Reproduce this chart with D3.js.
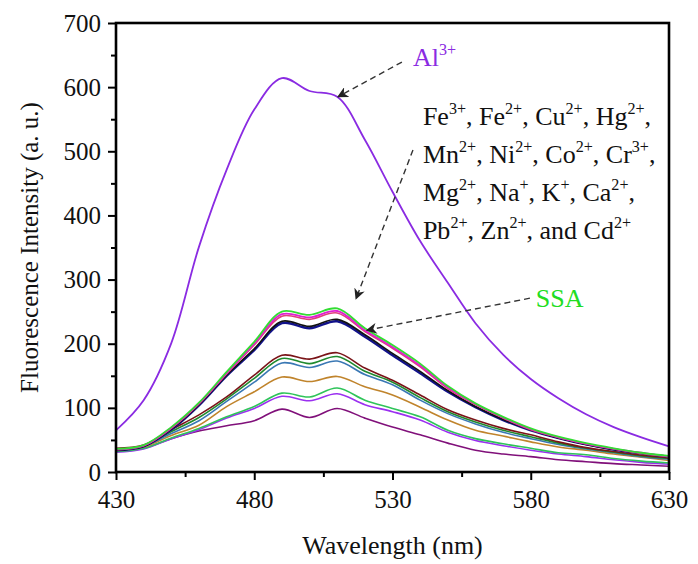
<!DOCTYPE html>
<html>
<head>
<meta charset="utf-8">
<script src="https://cdn.jsdelivr.net/npm/d3@7/dist/d3.min.js"></script>
<style>
  body { margin: 0; background: #fff; }
  svg text { font-family: "Liberation Serif", "Times New Roman", serif; fill: #111; }
</style>
</head>
<body>
<svg id="chart" width="698" height="564"></svg>
<script>
// wavelengths (nm) shared by every spectrum
const wavelengths = [430, 440, 450, 460, 470, 480, 490, 500, 510, 520, 530, 540, 550, 560, 570, 580, 590, 600, 610, 620, 630];

// fluorescence intensity
const al3     = [65, 112, 201, 351, 471, 565, 614, 594, 585, 518, 437, 360, 295, 232, 183, 145, 115, 90, 70, 54, 40];
const ssa     = [36, 42, 70, 108, 156, 203, 250, 245, 255, 224, 198, 169, 134, 107, 86, 68, 55, 45, 37, 30, 25];
const magenta = [35, 41, 69, 107, 154, 200, 246, 241, 251, 221, 195, 166, 132, 106, 85, 67, 54, 44, 36, 30, 24];
const pink    = [35, 41, 68, 106, 153, 198, 243, 238, 248, 219, 193, 164, 130, 105, 84, 66, 54, 44, 36, 29, 24];
const black   = [34, 40, 67, 105, 151, 192, 235, 227, 238, 214, 185, 157, 127, 102, 82, 66, 53, 43, 35, 29, 24];
const navy    = [34, 40, 66, 104, 150, 190, 232, 224, 235, 211, 182, 154, 125, 101, 81, 65, 53, 43, 35, 29, 24];
const maroon  = [37, 42, 66, 89, 117, 151, 182, 176, 186, 162, 143, 120, 97, 81, 68, 58, 47, 38, 32, 26, 22];
const dkgreen = [35, 41, 63, 85, 114, 146, 177, 169, 180, 157, 140, 116, 94, 78, 65, 55, 45, 37, 31, 25, 21];
const steel   = [34, 40, 60, 80, 110, 140, 170, 163, 173, 152, 136, 112, 91, 75, 62, 52, 43, 36, 30, 24, 20];
const brown   = [34, 39, 57, 73, 102, 125, 148, 141, 149, 133, 120, 101, 81, 65, 56, 47, 39, 34, 28, 23, 18];
const green   = [32, 37, 53, 68, 86, 102, 123, 117, 131, 112, 99, 86, 65, 52, 44, 37, 30, 27, 21, 17, 14];
const violet  = [31, 36, 52, 66, 84, 99, 118, 111, 122, 105, 94, 81, 62, 49, 41, 34, 28, 24, 19, 15, 12];
const purple  = [32, 37, 52, 64, 72, 80, 98, 85, 99, 84, 70, 58, 45, 34, 28, 24, 19, 16, 13, 11, 9];

const xTicks = [430, 480, 530, 580, 630];
const yTicks = [0, 100, 200, 300, 400, 500, 600, 700];

// draw order + style
const series = [
  { v: purple,  color: "#80107a", w: 1.6 },
  { v: violet,  color: "#9b30f0", w: 1.6 },
  { v: green,   color: "#2fc45a", w: 1.6 },
  { v: brown,   color: "#c0842c", w: 1.6 },
  { v: steel,   color: "#3a78b4", w: 1.6 },
  { v: dkgreen, color: "#1f8a2e", w: 1.6 },
  { v: maroon,  color: "#7a1418", w: 1.6 },
  { v: navy,    color: "#12128a", w: 2.4 },
  { v: black,   color: "#111111", w: 1.6 },
  { v: pink,    color: "#e0407a", w: 1.6 },
  { v: magenta, color: "#e020d0", w: 1.8 },
  { v: ssa,     color: "#33dd33", w: 1.8 },
  { v: al3,     color: "#8a2be2", w: 1.8 }
];

const mLeft = 116, mRight = 669, mTop = 23, mBottom = 472;

const x = d3.scaleLinear().domain([430, 630]).range([mLeft, mRight]);
const y = d3.scaleLinear().domain([0, 700]).range([mBottom, mTop]);

const svg = d3.select('#chart');

svg.append('defs').append('marker')
    .attr('id', 'arrow')
    .attr('viewBox', '0 0 10 10')
    .attr('refX', 9).attr('refY', 5)
    .attr('markerWidth', 11).attr('markerHeight', 11)
    .attr('markerUnits', 'userSpaceOnUse')
    .attr('orient', 'auto')
  .append('path')
    .attr('d', 'M0,0 L10,5 L0,10 L3,5 z')
    .attr('fill', '#222');

// spectra
const line = d3.line()
  .x((d, i) => x(wavelengths[i]))
  .y(d => y(d))
  .curve(d3.curveCatmullRom.alpha(0.5));

svg.append('g').selectAll('path')
    .data(series)
  .enter().append('path')
    .attr('d', d => line(d.v))
    .attr('fill', 'none')
    .attr('stroke', d => d.color)
    .attr('stroke-width', d => d.w);

// axes
svg.append('g')
  .attr('transform', `translate(0,${mBottom})`)
  .call(d3.axisBottom(x).tickValues(xTicks).tickSize(8).tickPadding(10).tickFormat(d3.format('d')));
svg.append('g')
  .attr('transform', `translate(0,${mBottom})`)
  .call(d3.axisBottom(x).tickValues([455, 505, 555, 605]).tickSize(5).tickFormat(''));

svg.append('g')
  .attr('transform', `translate(${mLeft},0)`)
  .call(d3.axisLeft(y).tickValues(yTicks).tickSize(8).tickPadding(7));
svg.append('g')
  .attr('transform', `translate(${mLeft},0)`)
  .call(d3.axisLeft(y).tickValues([50, 150, 250, 350, 450, 550, 650]).tickSize(5).tickFormat(''));

svg.selectAll('.domain').remove();
svg.selectAll('.tick line').attr('stroke', '#000').attr('stroke-width', 2);
svg.selectAll('.tick text').attr('font-size', 25).attr('fill', '#111')
  .style('font-family', '"Liberation Serif", serif');

// frame
svg.append('rect')
  .attr('x', mLeft).attr('y', mTop)
  .attr('width', mRight - mLeft).attr('height', mBottom - mTop)
  .attr('fill', 'none').attr('stroke', '#000').attr('stroke-width', 2.6);

// axis titles
svg.append('text')
  .attr('x', (mLeft + mRight) / 2).attr('y', 554)
  .attr('text-anchor', 'middle').attr('font-size', 26)
  .text('Wavelength (nm)');

svg.append('text')
  .attr('transform', `translate(38,${(mTop + mBottom) / 2}) rotate(-90)`)
  .attr('text-anchor', 'middle').attr('font-size', 25)
  .text('Fluorescence Intensity (a. u.)');

// annotations, in data units
const arrows = [
  [533.4, 639, 510.3, 585],
  [537.4, 502, 516.8, 270],
  [579.7, 271, 520.7, 221]
];
svg.append('g').selectAll('line')
    .data(arrows)
  .enter().append('line')
    .attr('x1', d => x(d[0])).attr('y1', d => y(d[1]))
    .attr('x2', d => x(d[2])).attr('y2', d => y(d[3]))
    .attr('stroke', '#333').attr('stroke-width', 1.4)
    .attr('stroke-dasharray', '6,4')
    .attr('marker-end', 'url(#arrow)');

// text with ^{...} superscripts
function rich(g, str, size) {
  const parts = str.split(/(\^\{[^}]*\})/).filter(s => s.length);
  let up = false;
  parts.forEach(p => {
    const t = g.append('tspan');
    if (p.startsWith('^{')) {
      t.attr('font-size', size * 0.62).attr('dy', -11).text(p.slice(2, -1));
      up = true;
    } else {
      t.attr('font-size', size).attr('dy', up ? 11 : 0).text(p);
      up = false;
    }
  });
}

const alLabel = svg.append('text')
  .attr('x', x(537.4)).attr('y', y(633));
rich(alLabel, 'Al^{3+}', 26);
alLabel.selectAll('tspan').style('fill', '#8a2be2');

const ionLines = [
  'Fe^{3+}, Fe^{2+}, Cu^{2+}, Hg^{2+},',
  'Mn^{2+}, Ni^{2+}, Co^{2+}, Cr^{3+},',
  'Mg^{2+}, Na^{+}, K^{+}, Ca^{2+},',
  'Pb^{2+}, Zn^{2+}, and Cd^{2+}'
];
ionLines.forEach((s, i) => {
  const t = svg.append('text')
    .attr('x', x(541)).attr('y', y(541) + i * 38);
  rich(t, s, 26);
});

svg.append('text')
  .attr('x', x(581.8)).attr('y', y(258))
  .attr('font-size', 26)
  .style('fill', '#22dd22')
  .text('SSA');
</script>
</body>
</html>
